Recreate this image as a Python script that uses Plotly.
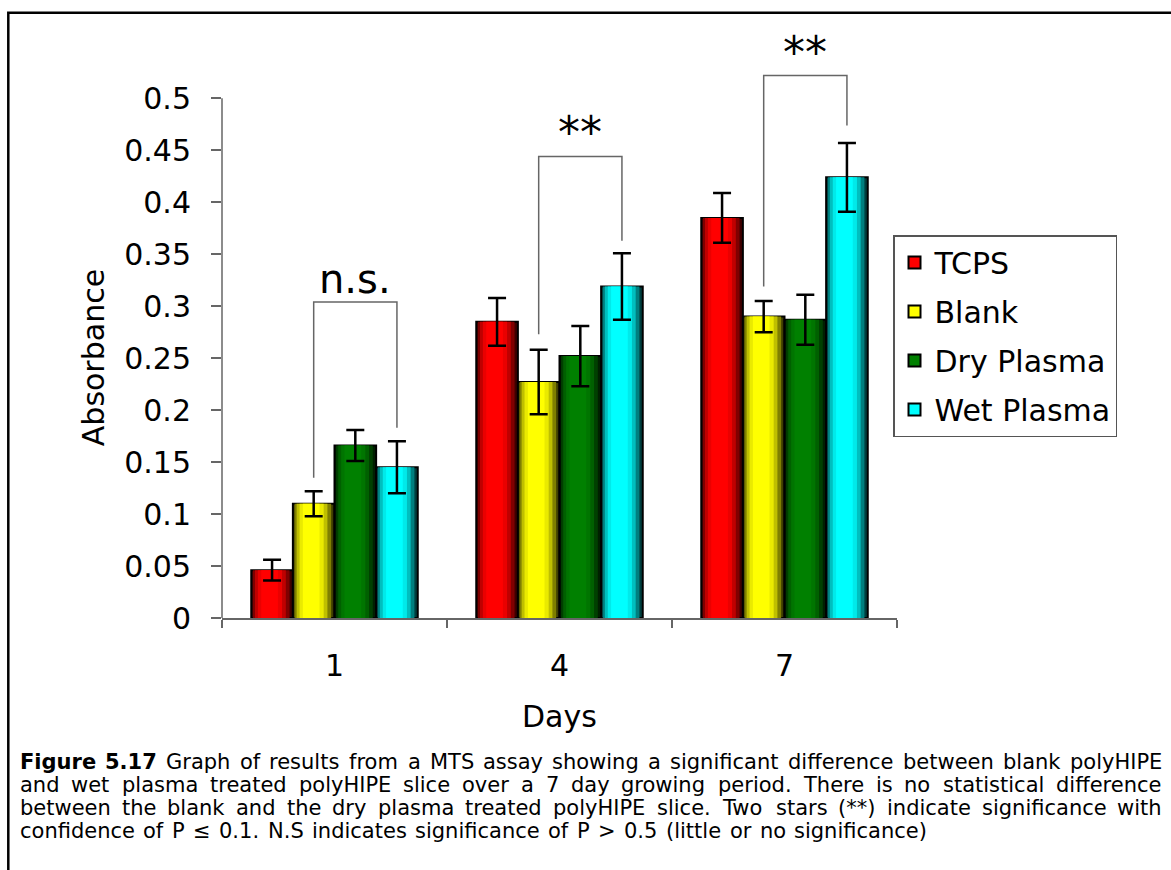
import plotly.graph_objects as go

# ---- data ----
days = ["1", "4", "7"]
series_names = ["TCPS", "Blank", "Dry Plasma", "Wet Plasma"]
series_colors = [(255, 0, 0), (255, 255, 0), (0, 128, 0), (0, 255, 255)]

tcps = [0.046, 0.285, 0.385]
blank = [0.110, 0.227, 0.290]
dry_plasma = [0.166, 0.252, 0.287]
wet_plasma = [0.145, 0.319, 0.424]

tcps_err = [0.010, 0.023, 0.024]
blank_err = [0.012, 0.031, 0.015]
dry_plasma_err = [0.015, 0.029, 0.024]
wet_plasma_err = [0.025, 0.032, 0.033]

y_tick_values = [0, 0.05, 0.1, 0.15, 0.2, 0.25, 0.3, 0.35, 0.4, 0.45, 0.5]
y_tick_labels = ["0", "0.05", "0.1", "0.15", "0.2", "0.25", "0.3", "0.35", "0.4", "0.45", "0.5"]

# significance brackets (blank vs wet plasma on each day)
sig_labels = ["n.s.", "**", "**"]
bracket_top = [0.304, 0.444, 0.522]
bracket_left_end = [0.135, 0.273, 0.319]
bracket_right_end = [0.183, 0.363, 0.474]
sig_label_y = [0.326, 0.471, 0.548]

caption_lines = [
    "<b>Figure</b> <b>5.17</b> Graph of results from a MTS assay showing a significant difference between blank polyHIPE",
    "and wet plasma treated polyHIPE slice over a 7 day growing period. There is no statistical difference",
    "between the blank and the dry plasma treated polyHIPE slice. Two stars (**) indicate significance with",
    "confidence of P \u2264 0.1. N.S indicates significance of P > 0.5 (little or no significance)",
]

values = [tcps, blank, dry_plasma, wet_plasma]
errors = [tcps_err, blank_err, dry_plasma_err, wet_plasma_err]

# ---- geometry ----
W, H = 1171, 870
L, R, T, B = 222, 274, 36, 252
Y_MAX = 0.56
FONT = "DejaVu Sans"
SLOT = 0.185  # width of one bar in category units
AXIS_GREY = "#666666"


def xp(px):
    return (px - L) / (W - L - R)


def yp(py):
    return (H - B - py) / (H - T - B)


def shade(rgb, f):
    return "rgb(%d,%d,%d)" % tuple(int(c * f) for c in rgb)


# rough DejaVu Sans advance widths (units of 1/2048 em)
GLYPH = {" ": 651, "a": 1255, "b": 1300, "c": 1126, "d": 1300, "e": 1260, "f": 721, "g": 1300,
         "h": 1298, "i": 569, "k": 1186, "l": 569, "m": 1995, "n": 1298, "o": 1253, "p": 1300,
         "r": 842, "s": 1067, "t": 803, "u": 1298, "v": 1212, "w": 1675, "y": 1212,
         "G": 1587, "M": 1767, "T": 1251, "S": 1300, "H": 1540, "I": 604, "P": 1235, "E": 1294,
         "N": 1532, "F": 1178, ".": 651, ",": 651, "(": 799, ")": 799, "*": 1024,
         "\u2264": 1716, ">": 1716}
BOLD = {"F": 1401, "i": 702, "g": 1466, "u": 1458, "r": 1010, "e": 1389, ".": 780}


def word_width(word, size):
    bold = word.startswith("<b>")
    w = word.replace("<b>", "").replace("</b>", "")
    total = 0
    for ch in w:
        if bold:
            total += BOLD.get(ch, 1425)
        else:
            total += GLYPH.get(ch, 1303 if ch.isdigit() else 1200)
    return total / 2048 * size


fig = go.Figure()

# bars: a few overlaid layers per bar give the shaded, cylinder-like look
layers = [(1.00, 0.25, 0.00), (0.88, 0.50, -0.02), (0.74, 0.75, -0.04),
          (0.58, 0.92, -0.05), (0.40, 1.00, -0.06)]
group_x = list(range(len(days)))
for i, (name, col, vals) in enumerate(zip(series_names, series_colors, values)):
    center_off = (i - 1.5) * SLOT
    for k, (wf, bright, shift) in enumerate(layers):
        fig.add_trace(go.Bar(
            x=group_x, y=vals, width=SLOT * wf,
            offset=center_off - SLOT * wf / 2 + shift * SLOT,
            marker=dict(color=shade(col, bright),
                        line=dict(color="black", width=2 if k == 0 else 0)),
            showlegend=False, hoverinfo="skip",
        ))
    # legend entry
    fig.add_trace(go.Bar(
        x=[None], y=[None], name=name, legendgroup=name,
        marker=dict(color=shade(col, 1.0), line=dict(color="black", width=2)),
    ))

# error bars
for i, (vals, errs) in enumerate(zip(values, errors)):
    centers = [g + (i - 1.5) * SLOT for g in group_x]
    fig.add_trace(go.Scatter(
        x=centers, y=vals, mode="markers",
        marker=dict(size=1, color="rgba(0,0,0,0)"),
        error_y=dict(type="data", array=errs, color="black", thickness=2.5, width=9),
        showlegend=False, hoverinfo="skip",
    ))

# significance brackets between Blank (series 1) and Wet Plasma (series 3)
annotations = []
for g, lab in enumerate(sig_labels):
    xl = g + (1 - 1.5) * SLOT
    xr = g + (3 - 1.5) * SLOT
    fig.add_trace(go.Scatter(
        x=[xl, xl, xr, xr],
        y=[bracket_left_end[g], bracket_top[g], bracket_top[g], bracket_right_end[g]],
        mode="lines", line=dict(color=AXIS_GREY, width=1.5),
        showlegend=False, hoverinfo="skip",
    ))
    star = lab == "**"
    annotations.append(dict(
        x=(xl + xr) / 2, y=sig_label_y[g], xref="x", yref="y", text=lab,
        showarrow=False, xanchor="center", yanchor="middle",
        yshift=-4 if star else 0,
        font=dict(family=FONT, size=44 if star else 40, color="black"),
    ))

# axis titles
annotations.append(dict(x=xp(93), y=0.25, xref="paper", yref="y", text="Absorbance",
                        textangle=-90, showarrow=False, xanchor="center", yanchor="middle",
                        font=dict(family=FONT, size=30, color="black")))
annotations.append(dict(x=xp(559), y=yp(716), xref="paper", yref="paper", text="Days",
                        showarrow=False, xanchor="center", yanchor="middle",
                        font=dict(family=FONT, size=30, color="black")))

# caption, justified word by word
CAP_SIZE = 21
cap_left = 18
cap_right = [1160, 1160, 1160, 925]
cap_y = [762, 785, 808, 831]
for line, right, ly in zip(caption_lines, cap_right, cap_y):
    words = line.split(" ")
    widths = [word_width(w, CAP_SIZE) for w in words]
    gap = (right - cap_left - sum(widths)) / (len(words) - 1)
    x = cap_left
    for w, ww in zip(words, widths):
        annotations.append(dict(x=xp(x), y=yp(ly), xref="paper", yref="paper", text=w,
                                showarrow=False, xanchor="left", yanchor="middle",
                                font=dict(family=FONT, size=CAP_SIZE, color="black")))
        x += ww + gap

shapes = [
    # y axis line only up to the last tick
    dict(type="line", xref="paper", yref="paper", x0=0, x1=0, y0=0,
         y1=y_tick_values[-1] / Y_MAX, line=dict(color=AXIS_GREY, width=1.5)),
    # frame around the whole figure
    dict(type="rect", xref="paper", yref="paper", x0=xp(8.3), x1=xp(1190),
         y0=yp(890), y1=yp(12.8), line=dict(color="black", width=2.5)),
]

fig.update_layout(
    width=W, height=H, autosize=False,
    margin=dict(l=L, r=R, t=T, b=B, pad=0),
    paper_bgcolor="white", plot_bgcolor="white",
    barmode="overlay",
    font=dict(family=FONT, color="black"),
    showlegend=True,
    legend=dict(x=xp(893), y=yp(235), xanchor="left", yanchor="top",
                bordercolor="#555555", borderwidth=1.5, bgcolor="white",
                font=dict(family=FONT, size=30, color="black"),
                traceorder="grouped", tracegroupgap=7),
    annotations=annotations,
    shapes=shapes,
)

fig.update_xaxes(
    range=[-0.5, len(days) - 0.5], tickvals=group_x, ticktext=days,
    ticks="", showgrid=False, zeroline=False,
    showline=True, linecolor=AXIS_GREY, linewidth=1.5,
    tickfont=dict(family=FONT, size=30, color="black"), ticklabelstandoff=20,
    minor=dict(tickvals=[g - 0.5 for g in range(len(days) + 1)], ticks="outside",
               ticklen=8, tickwidth=1.5, tickcolor=AXIS_GREY, showgrid=False),
)
fig.update_yaxes(
    range=[0, Y_MAX], tickvals=y_tick_values, ticktext=y_tick_labels,
    ticks="outside", ticklen=10, tickwidth=1.5, tickcolor=AXIS_GREY,
    showgrid=False, zeroline=False, showline=False,
    tickfont=dict(family=FONT, size=30, color="black"), ticklabelstandoff=14,
)

fig.write_html("out.html", config={"displayModeBar": False},
               post_script="document.body.style.margin='0';")
